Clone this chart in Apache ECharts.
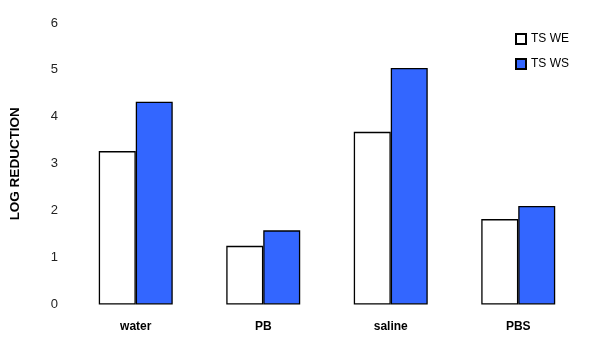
<!DOCTYPE html>
<html>
<head>
<meta charset="utf-8">
<script src="https://cdn.jsdelivr.net/npm/echarts@6/dist/echarts.min.js"></script>
<style>html,body{margin:0;padding:0;background:#fff;}#c{width:596px;height:355px;}</style>
</head>
<body>
<div id="c"></div>
<script>
var categories = ['water', 'PB', 'saline', 'PBS'];
var tsWE = [3.27, 1.25, 3.68, 1.82];
var tsWS = [4.32, 1.58, 5.04, 2.10];
var seriesNames = ['TS WE', 'TS WS'];

var chart = echarts.init(document.getElementById('c'));
var font = 'Liberation Sans, Arial, sans-serif';
chart.setOption({
  animation: false,
  grid: { left: 72, right: 14, top: 23, bottom: 50.5 },
  legend: {
    orient: 'vertical',
    left: 510,
    top: 28,
    icon: 'rect',
    itemWidth: 10,
    itemHeight: 10,
    itemGap: 13,
    textStyle: { fontFamily: font, fontSize: 12, color: '#000' },
    data: seriesNames
  },
  xAxis: {
    type: 'category',
    data: categories,
    axisLine: { show: false },
    axisTick: { show: false },
    axisLabel: { fontFamily: font, fontSize: 12, fontWeight: 'bold', color: '#000', margin: 16 }
  },
  yAxis: {
    type: 'value',
    min: 0,
    max: 6,
    interval: 1,
    name: 'LOG REDUCTION',
    nameLocation: 'middle',
    nameRotate: 90,
    nameGap: 50,
    nameTextStyle: { fontFamily: font, fontSize: 13.5, fontWeight: 'bold', color: '#000' },
    axisLine: { show: false },
    axisTick: { show: false },
    splitLine: { show: false },
    axisLabel: { fontFamily: font, fontSize: 13, color: '#222', margin: 14 }
  },
  series: [
    {
      name: seriesNames[0], type: 'bar', data: tsWE,
      barGap: '0%', barCategoryGap: '42%',
      itemStyle: { color: '#ffffff', borderColor: '#000', borderWidth: 1.3 }
    },
    {
      name: seriesNames[1], type: 'bar', data: tsWS,
      barGap: '0%', barCategoryGap: '42%',
      itemStyle: { color: '#3366ff', borderColor: '#000', borderWidth: 1.3 }
    }
  ]
});
</script>
</body>
</html>
